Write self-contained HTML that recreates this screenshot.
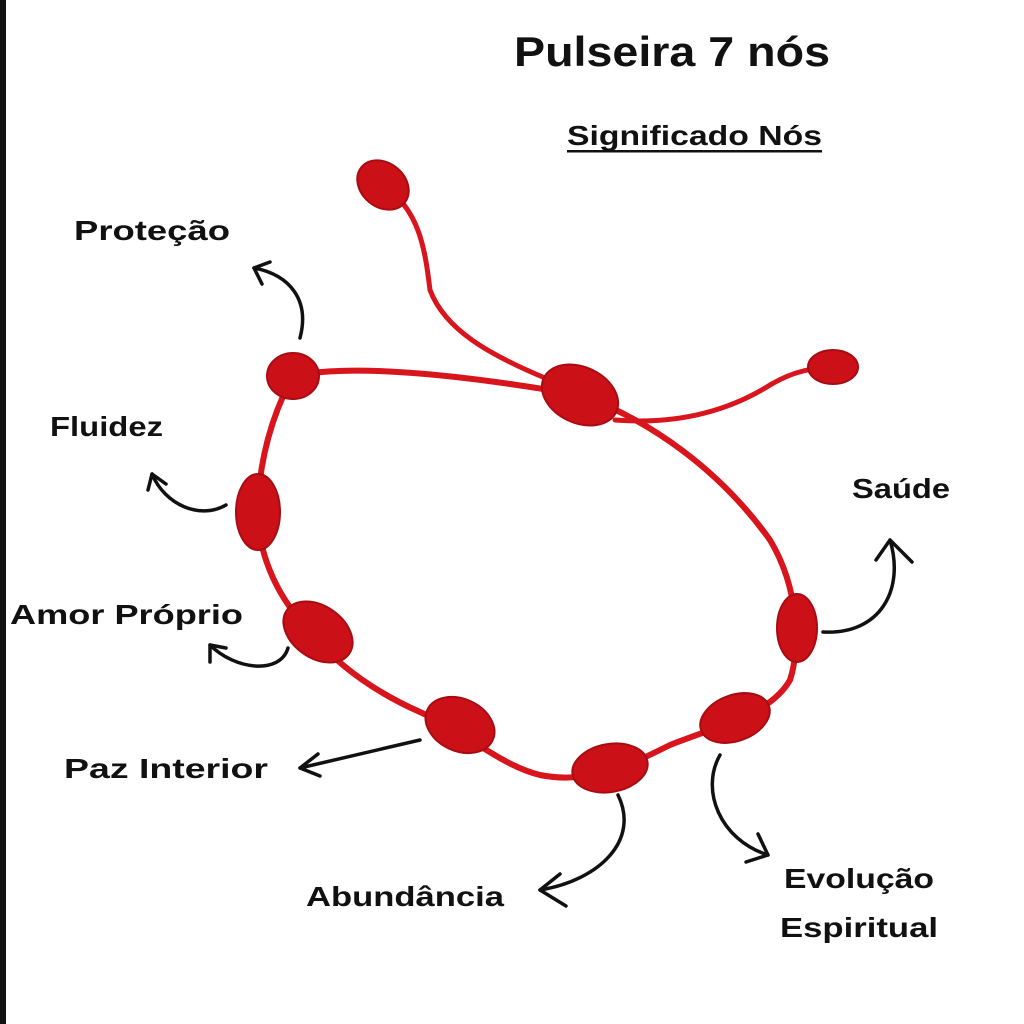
<!DOCTYPE html>
<html><head><meta charset="utf-8"><style>
html,body{margin:0;padding:0;background:#fff}
svg{display:block}
text{font-family:"Liberation Sans",sans-serif;font-weight:bold;fill:#111}
</style></head><body>
<svg width="1024" height="1024" viewBox="0 0 1024 1024" xmlns="http://www.w3.org/2000/svg">
<rect x="0" y="0" width="1024" height="1024" fill="#fff"/>
<rect x="0" y="0" width="6" height="1024" fill="#111"/>
<text x="514" y="66" font-size="42" textLength="316" lengthAdjust="spacingAndGlyphs">Pulseira 7 nós</text>
<text x="567" y="145" font-size="28" textLength="255" lengthAdjust="spacingAndGlyphs">Significado Nós</text>
<rect x="567" y="150" width="255" height="2.5" fill="#111"/>
<g fill="none" stroke="#d8141c" stroke-linecap="round" stroke-width="6">
<path d="M293,376 C360,362 480,378 580,395 C650,420 720,470 770,540 C800,590 800,650 790,680 C770,715 720,725 670,745 C630,765 590,785 540,775 C500,765 470,735 420,712 C370,690 330,660 300,620 C270,585 255,540 258,500 C262,440 280,400 293,376 Z"/>
<path d="M383,185 C420,210 425,250 430,290 C445,330 490,355 545,378" stroke-width="5"/>
<path d="M615,420 C680,425 730,410 770,385 C795,370 815,368 833,367" stroke-width="5"/>
</g>
<g fill="#cc1018" stroke="#a80c12" stroke-width="2">
<ellipse cx="293" cy="376" rx="26" ry="23"/>
<ellipse cx="258" cy="512" rx="22" ry="38"/>
<ellipse cx="318" cy="632" rx="38" ry="26" transform="rotate(35 318 632)"/>
<ellipse cx="460" cy="725" rx="36" ry="26" transform="rotate(25 460 725)"/>
<ellipse cx="610" cy="768" rx="38" ry="24" transform="rotate(-10 610 768)"/>
<ellipse cx="735" cy="718" rx="36" ry="23" transform="rotate(-20 735 718)"/>
<ellipse cx="797" cy="628" rx="20" ry="34"/>
<ellipse cx="580" cy="395" rx="40" ry="28" transform="rotate(25 580 395)"/>
<ellipse cx="383" cy="185" rx="28" ry="22" transform="rotate(40 383 185)"/>
<ellipse cx="833" cy="367" rx="25" ry="17"/>
</g>
<g fill="none" stroke="#111" stroke-width="3.5" stroke-linecap="round" stroke-linejoin="round">
<path d="M300,338 C310,300 290,275 254,268"/><path d="M270,262 L254,268 L262,284"/>
<path d="M226,505 C200,520 165,505 152,474"/><path d="M148,490 L152,474 L166,484"/>
<path d="M288,648 C280,675 235,670 210,645"/><path d="M210,662 L210,645 L226,648"/>
<path d="M420,740 L300,768"/><path d="M318,754 L300,768 L320,776"/>
<path d="M618,795 C640,840 600,880 540,890"/><path d="M560,874 L540,890 L566,906"/>
<path d="M720,755 C700,790 720,840 768,855"/><path d="M746,862 L768,855 L758,834"/>
<path d="M823,632 C880,635 905,590 890,540"/><path d="M876,560 L890,540 L912,562"/>
</g>
<text x="74" y="240" font-size="28" textLength="156" lengthAdjust="spacingAndGlyphs">Proteção</text>
<text x="50" y="436" font-size="28" textLength="113" lengthAdjust="spacingAndGlyphs">Fluidez</text>
<text x="10" y="624" font-size="28" textLength="233" lengthAdjust="spacingAndGlyphs">Amor Próprio</text>
<text x="64" y="778" font-size="28" textLength="204" lengthAdjust="spacingAndGlyphs">Paz Interior</text>
<text x="306" y="906" font-size="28" textLength="198" lengthAdjust="spacingAndGlyphs">Abundância</text>
<text x="784" y="888" font-size="28" textLength="150" lengthAdjust="spacingAndGlyphs">Evolução</text>
<text x="780" y="937" font-size="28" textLength="158" lengthAdjust="spacingAndGlyphs">Espiritual</text>
<text x="852" y="498" font-size="28" textLength="98" lengthAdjust="spacingAndGlyphs">Saúde</text>
</svg>
</body></html>
